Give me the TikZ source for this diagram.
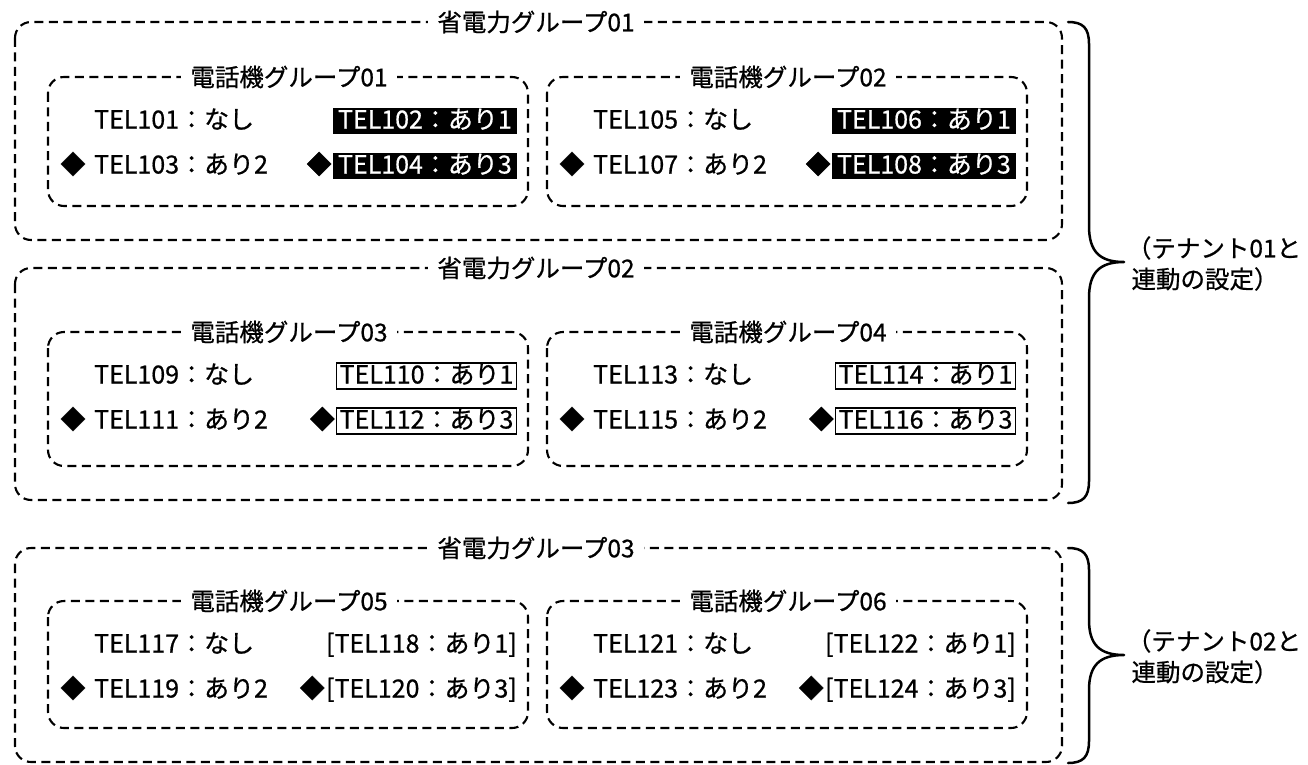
\documentclass[tikz,border=0pt]{standalone}
\usepackage{fontspec}
\setmainfont{Noto Sans CJK JP}[FakeBold=0.7]
\begin{document}
\begin{tikzpicture}[x=1pt,y=-1pt,
  dbox/.style={draw, line width=2.1pt, dash pattern=on 9pt off 5.5pt, rounded corners=16pt},
  ttl/.style={fill=white, inner xsep=9pt, inner ysep=2pt, font=\fontsize{24.5}{28}\selectfont},
  itm/.style={font=\fontsize{25}{28}\selectfont, text height=19pt, text depth=4pt, inner ysep=1.5pt, inner xsep=0pt},
  blk/.style={itm, fill=black, text=white, inner xsep=5pt},
  frm/.style={itm, draw, line width=1.2pt, inner xsep=3pt},
  plain/.style={itm, inner xsep=0pt},
  brc/.style={line width=2.5pt, line cap=round, line join=round},
  note/.style={font=\fontsize{24.5}{30}\selectfont, align=center, inner sep=0pt}
]
\useasboundingbox (0,0) rectangle (1308,765);

% outer groups
\draw[dbox] (15,22) rectangle (1062,240);
\node[ttl] (og1) at (536,22) {省電力グループ01};
\draw[dbox] (15,268) rectangle (1062,500);
\node[ttl] (og2) at (536,268) {省電力グループ02};
\draw[dbox] (15,548) rectangle (1062,762);
\node[ttl] (og3) at (536,548) {省電力グループ03};

% inner group: #1 name, #2 x0, #3 y0 (top), #4 height, #5 title, #6..#9 items
\newcommand{\telgrp}[9]{%
  \draw[dbox] (#2,#3) rectangle ++(480,#4);
  \node[ttl] (#1t) at ([xshift=241pt]#2,#3) {#5};
  \node[itm, anchor=west] (#1a) at ([xshift=46pt,yshift=-44pt]#2,#3) {#6};
  \node[itm, anchor=center] (#1da) at ([xshift=25pt,yshift=-89pt]#2,#3) {◆};
  \node[itm, anchor=west] (#1c) at ([xshift=46pt,yshift=-89pt]#2,#3) {#8};
  \node[\grpstyle, anchor=east] (#1b) at ([xshift=469pt,yshift=-44pt]#2,#3) {#7};
  \node[\grpstyle, anchor=east] (#1d) at ([xshift=469pt,yshift=-89pt]#2,#3) {#9};
  \node[itm, anchor=east, inner xsep=1pt] (#1dd) at (#1d.west) {◆};
}

\def\grpstyle{blk}
\telgrp{g1}{48}{77}{129}{電話機グループ01}{TEL101：なし}{TEL102：あり1}{TEL103：あり2}{TEL104：あり3}
\telgrp{g2}{547}{77}{129}{電話機グループ02}{TEL105：なし}{TEL106：あり1}{TEL107：あり2}{TEL108：あり3}
\def\grpstyle{frm}
\telgrp{g3}{48}{332}{134}{電話機グループ03}{TEL109：なし}{TEL110：あり1}{TEL111：あり2}{TEL112：あり3}
\telgrp{g4}{547}{332}{134}{電話機グループ04}{TEL113：なし}{TEL114：あり1}{TEL115：あり2}{TEL116：あり3}
\def\grpstyle{plain}
\telgrp{g5}{48}{601}{127}{電話機グループ05}{TEL117：なし}{[TEL118：あり1]}{TEL119：あり2}{[TEL120：あり3]}
\telgrp{g6}{547}{601}{127}{電話機グループ06}{TEL121：なし}{[TEL122：あり1]}{TEL123：あり2}{[TEL124：あり3]}

% braces
\coordinate (b1t) at (1068,22);
\coordinate (b1m) at (1124,262);
\coordinate (b1b) at (1068,503);
\draw[brc] (b1t) .. controls (1083,22) and (1089,28) .. (1089,44) -- (1089,226)
  .. controls (1089,252) and (1100,262) .. (b1m)
  .. controls (1100,262) and (1089,272) .. (1089,298) -- (1089,481)
  .. controls (1089,497) and (1083,503) .. (b1b);
\coordinate (b2t) at (1068,548);
\coordinate (b2m) at (1124,655);
\coordinate (b2b) at (1068,763);
\draw[brc] (b2t) .. controls (1083,548) and (1089,554) .. (1089,570) -- (1089,620)
  .. controls (1089,645) and (1100,655) .. (b2m)
  .. controls (1100,655) and (1089,665) .. (1089,690) -- (1089,741)
  .. controls (1089,757) and (1083,763) .. (b2b);

\node[note] (t1a) at (1214,248) {（テナント01と};
\node[note] (t1b) at (1205,279) {連動の設定）};
\node[note] (t2a) at (1214,641) {（テナント02と};
\node[note] (t2b) at (1205,672) {連動の設定）};
\end{tikzpicture}
\end{document}
